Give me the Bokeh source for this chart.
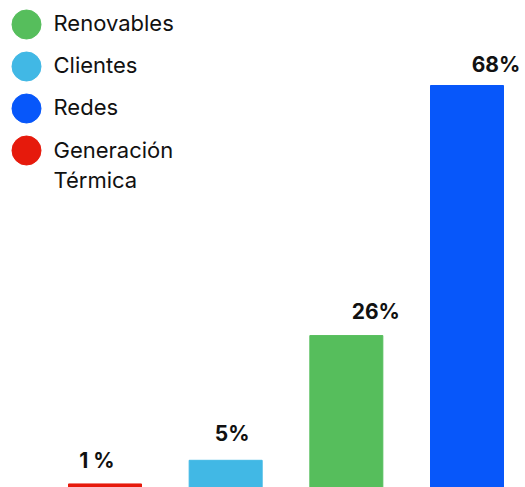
from bokeh.plotting import figure
from bokeh.models import Range1d, ColumnDataSource
from bokeh.core.properties import value
from bokeh.embed import file_html
from bokeh.resources import INLINE

# data
categories = ["Generación Térmica", "Clientes", "Renovables", "Redes"]
shares = [0.6, 4.6, 25.7, 68.0]
bar_labels = ["1 %", "5%", "26%", "68%"]
bar_colors = ["#E61A0C", "#41B8E5", "#56BE5C", "#0757FA"]

legend_names = ["Renovables", "Clientes", "Redes", "Generación\nTérmica"]
legend_colors = ["#56BE5C", "#41B8E5", "#0757FA", "#E61A0C"]

W, H = 525, 487
x0_px, step_px = 104.5, 120.67
xs, xe = -x0_px / step_px, (W - x0_px) / step_px
y_per_px = 68.0 / 402.0
ye = H * y_per_px

p = figure(width=W, height=H, output_backend="svg", toolbar_location=None,
           x_range=Range1d(xs, xe), y_range=Range1d(0, ye),
           min_border=0, outline_line_color=None, background_fill_color="white",
           border_fill_color="white")
p.axis.visible = False
p.grid.visible = False

idx = list(range(len(categories)))
src = ColumnDataSource(dict(x=idx, top=shares, color=bar_colors, label=bar_labels,
                            dx=[-8, 6.5, 29.5, 29], dy=[-23, -27, -24, -21]))
p.vbar(x="x", top="top", bottom=0, width=73 / step_px, color="color", source=src)
p.text(x="x", y="top", text="label", source=src, x_offset="dx", y_offset="dy",
       text_align="center", text_baseline="alphabetic",
       text_font=value("Inter"), text_font_style="bold", text_font_size="21px",
       text_color="#111111")

# legend (drawn manually)
def px_x(px):
    return xs + px / step_px

def px_y(py):
    return (H - py) * y_per_px

circle_cy = [24, 66, 108, 150]
first_base = [22, 64, 106, 149]
line_gap = 30
tx, ty, tt = [], [], []
for b, name in zip(first_base, legend_names):
    for k, line in enumerate(name.split("\n")):
        tx.append(px_x(53))
        ty.append(px_y(b + k * line_gap))
        tt.append(line)

p.scatter(x=[px_x(26)] * 4, y=[px_y(v) for v in circle_cy], size=29, color=legend_colors)
p.text(x=tx, y=ty, text=tt, text_baseline="alphabetic", text_align="left",
       text_font=value("Inter"), text_font_size="22px", text_color="#111111")

open("out.html", "w").write(file_html(p, INLINE))
